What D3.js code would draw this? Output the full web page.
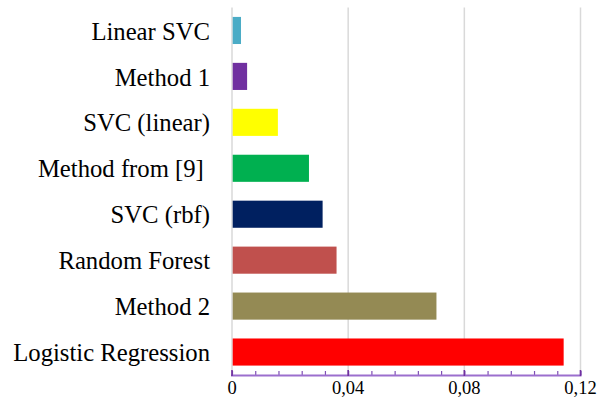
<!DOCTYPE html>
<html>
<head>
<meta charset="utf-8">
<script src="https://cdn.jsdelivr.net/npm/d3@7"></script>
<style>
  body { margin: 0; background: #fff; }
  text { font-family: "Liberation Serif", "Times New Roman", serif; }
</style>
</head>
<body>
<svg width="603" height="407"></svg>
<script>
// data, top bar first
const methods = ["Linear SVC", "Method 1", "SVC (linear)", "Method from [9] ", "SVC (rbf)", "Random Forest", "Method 2", "Logistic Regression"];
const values = [0.0031, 0.0052, 0.0158, 0.0265, 0.0312, 0.036, 0.0704, 0.1142];
const colors = ["#4BACC6", "#7030A0", "#FFFF00", "#00B050", "#002060", "#C0504D", "#948A54", "#FF0000"];
const majorTicks = [0, 0.04, 0.08, 0.12];
const tickLabels = ["0", "0,04", "0,08", "0,12"];

const svg = d3.select("svg");
const plotLeft = 232, plotRight = 580.5, plotTop = 7.5, plotBottom = 375;

const x = d3.scaleLinear().domain([0, 0.12]).range([plotLeft, plotRight]);
const y = d3.scaleBand().domain(methods).range([plotTop, plotBottom]).padding(0);
const barH = y.bandwidth() * 0.59;

// gridlines
svg.append("g")
    .selectAll("line")
    .data(majorTicks)
    .enter().append("line")
    .attr("x1", d => x(d)).attr("x2", d => x(d))
    .attr("y1", plotTop).attr("y2", plotBottom)
    .attr("stroke", "#d9d9d9")
    .attr("stroke-width", 1.5);

// bars
svg.append("g")
    .selectAll("rect")
    .data(methods)
    .enter().append("rect")
    .attr("x", x(0) + 0.7)
    .attr("y", d => y(d) + (y.bandwidth() - barH) / 2)
    .attr("width", (d, i) => x(values[i]) - x(0) - 0.7)
    .attr("height", barH)
    .attr("fill", (d, i) => colors[i]);

// category labels
svg.append("g")
    .selectAll("text")
    .data(methods)
    .enter().append("text")
    .attr("x", 210)
    .attr("y", d => y(d) + y.bandwidth() / 2 + 1)
    .attr("dy", "0.33em")
    .attr("text-anchor", "end")
    .style("white-space", "pre")
    .attr("font-size", 24.7)
    .attr("fill", "#000")
    .text(d => d);

// x axis with minor ticks pointing up
const axis = svg.append("g").attr("transform", `translate(0,${plotBottom})`);
axis.call(d3.axisBottom(x).tickValues(d3.range(0, 0.1201, 0.008)).tickSize(-4).tickFormat(""))
    .call(g => g.select(".domain").remove())
    .call(g => g.selectAll(".tick line").attr("stroke", "#7f4fb5").attr("stroke-width", 1.2));
axis.append("line")
    .attr("x1", x(0) - 1).attr("x2", x(0.12) + 1)
    .attr("y1", 0.5).attr("y2", 0.5)
    .attr("stroke", "#9b6fce")
    .attr("stroke-width", 2);
axis.selectAll(".major")
    .data(majorTicks)
    .enter().append("line")
    .attr("x1", d => x(d)).attr("x2", d => x(d))
    .attr("y1", -5).attr("y2", 1)
    .attr("stroke", "#7030A0")
    .attr("stroke-width", 1.6);
axis.selectAll(".lbl")
    .data(majorTicks)
    .enter().append("text")
    .attr("x", d => x(d))
    .attr("y", 19)
    .attr("text-anchor", "middle")
    .attr("font-size", 18.5)
    .attr("fill", "#000")
    .text((d, i) => tickLabels[i]);
</script>
</body>
</html>
